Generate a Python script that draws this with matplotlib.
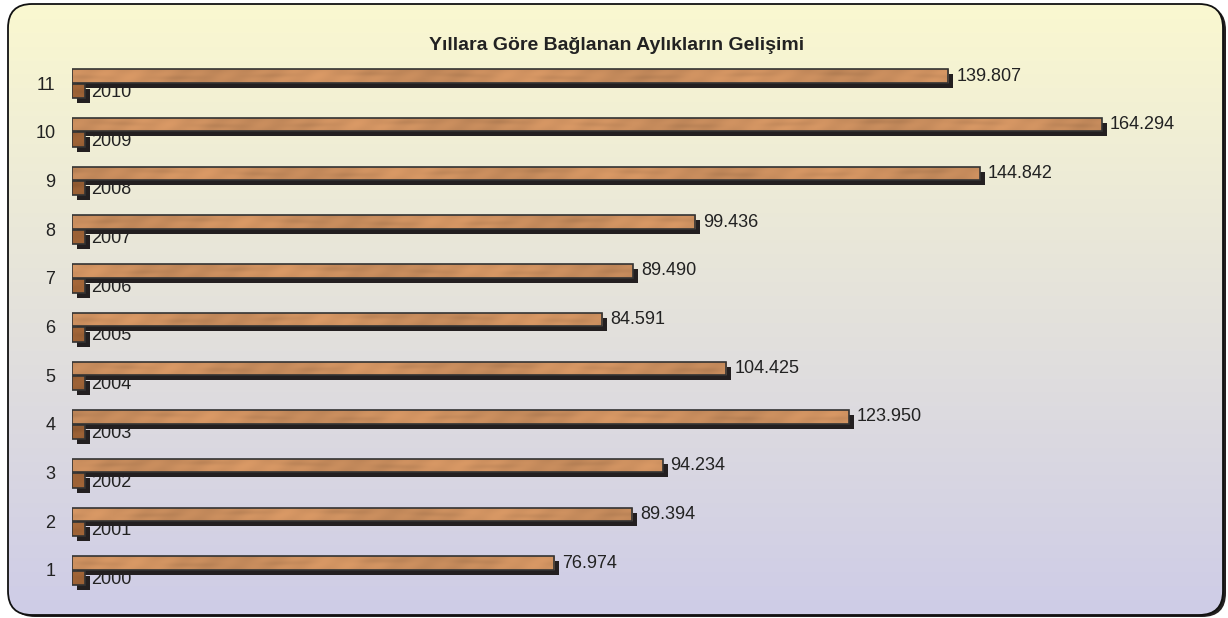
import numpy as np
import matplotlib
matplotlib.use('Agg')
import matplotlib.pyplot as plt
from matplotlib.patches import FancyBboxPatch, Rectangle
import matplotlib.patheffects as pe

# ---------------- data ----------------
categories = [1, 2, 3, 4, 5, 6, 7, 8, 9, 10, 11]
years = [2000, 2001, 2002, 2003, 2004, 2005, 2006, 2007, 2008, 2009, 2010]
values = [76974, 89394, 94234, 123950, 104425, 84591, 89490, 99436, 144842, 164294, 139807]
title = 'Yıllara Göre Bağlanan Aylıkların Gelişimi'


def tr_fmt(v):
    return f'{v:,}'.replace(',', '.')


plt.rcParams['font.family'] = ['Liberation Sans', 'DejaVu Sans']

W, H = 1228, 618
fig = plt.figure(figsize=(W / 100, H / 100), dpi=100)

# ---------------- background panel ----------------
bg = fig.add_axes([0, 0, 1, 1], zorder=0)
bg.set_xlim(0, W)
bg.set_ylim(H, 0)
bg.axis('off')

bx, by, bw, bh = 8, 4, 1215, 611
shadow = FancyBboxPatch((bx + 3, by + 2), bw, bh,
                        boxstyle='round,pad=0,rounding_size=24',
                        facecolor='#231F20', edgecolor='none')
bg.add_patch(shadow)
panel = FancyBboxPatch((bx, by), bw, bh,
                       boxstyle='round,pad=0,rounding_size=24',
                       facecolor='none', edgecolor='#111111', lw=1.3, zorder=3)
bg.add_patch(panel)
top_c = np.array([250, 248, 208]) / 255
bot_c = np.array([206, 204, 231]) / 255
t = np.linspace(0, 1, 256)[:, None]
grad = (top_c[None, :] * (1 - t) + bot_c[None, :] * t)[:, None, :]
im = bg.imshow(grad, extent=(bx, bx + bw, by + bh, by), aspect='auto',
               interpolation='bilinear', zorder=2)
clip = FancyBboxPatch((bx, by), bw, bh,
                      boxstyle='round,pad=0,rounding_size=24',
                      facecolor='none', edgecolor='none', transform=bg.transData)
bg.add_patch(clip)
im.set_clip_path(clip)

# ---------------- main axes ----------------
px_per_unit = 0.006267
x0_px = 72
xmax = 180000
ax_w = xmax * px_per_unit
y_top_px, y_bot_px = 58.65, 594.35
ax = fig.add_axes([x0_px / W, 1 - y_bot_px / H, ax_w / W, (y_bot_px - y_top_px) / H],
                  zorder=1)
ax.patch.set_alpha(0)
ax.set_xlim(0, xmax)
ax.set_ylim(0.5, 11.5)
for s in ax.spines.values():
    s.set_visible(False)
ax.set_xticks([])
ax.set_yticks(categories)
ax.set_yticklabels([str(c) for c in categories], fontsize=13, color='#222222')
ax.tick_params(axis='y', length=0, pad=12)


def wood(nx, ny, base, phase):
    xx = np.arange(nx)[None, :].astype(float)
    yy = np.arange(ny)[:, None].astype(float)
    band = np.exp(-((yy - ny * (0.45 + 0.15 * np.sin(xx / 70.0 + phase))) / 2.5) ** 2)
    f = (0.04 * np.sin(2 * np.pi * xx / 210.0 + phase)
         - 0.07 * band * (0.5 + 0.5 * np.sin(2 * np.pi * xx / 95.0 + 2 * phase))
         + 0.02 * np.sin(2 * np.pi * xx / 31.0 + 0.25 * yy + phase)
         - 0.04 * np.abs((yy - ny / 2) / (ny / 2)) ** 2)
    img = np.clip(np.array(base)[None, None, :] * (1 + f[:, :, None]), 0, 1)
    return img


shadow_fx = [pe.SimplePatchShadow(offset=(3.6, -3.6), shadow_rgbFace='#231F20', alpha=1.0),
             pe.Normal()]

big_base = np.array([206, 145, 96]) / 255
small_base = np.array([160, 100, 55]) / 255

big = ax.barh(np.array(categories) + 0.005, values, height=0.275, align='edge',
              color=big_base, edgecolor='none', zorder=2)
small = ax.barh(np.array(categories) - 0.31, years, height=0.295, align='edge',
                color=small_base, edgecolor='none', zorder=3)

for bars, base, z in ((big, big_base, 2), (small, small_base, 3)):
    for i, r in enumerate(bars):
        r.set_path_effects(shadow_fx)
        x0, y0, w, h = r.get_x(), r.get_y(), r.get_width(), r.get_height()
        nx = max(int(w * px_per_unit), 4)
        img = wood(nx, 14, base, i * 1.3)
        tim = ax.imshow(img, extent=(x0, x0 + w, y0, y0 + h), aspect='auto',
                        interpolation='bilinear', zorder=z + 0.1)
        tim.set_clip_path(r)
        ax.add_patch(Rectangle((x0, y0), w, h, facecolor='none',
                               edgecolor='#333333', lw=1.2, zorder=z + 0.2))

ax.set_xlim(0, xmax)
ax.set_ylim(0.5, 11.5)

for c, v in zip(categories, values):
    ax.annotate(tr_fmt(v), (v, c + 0.1425), xytext=(5.8, 0), textcoords='offset points',
                ha='left', va='center', fontsize=13, color='#222222', zorder=5)
for c, yv in zip(categories, years):
    ax.annotate(str(yv), (yv, c - 0.165), xytext=(5.0, -1), textcoords='offset points',
                ha='left', va='center', fontsize=13, color='#222222', zorder=1.5)

fig.text(617 / W, 1 - 45 / H, title, ha='center', va='center', fontsize=14,
         fontweight='bold', color='#222222')

fig.savefig('out.png', dpi=100)
